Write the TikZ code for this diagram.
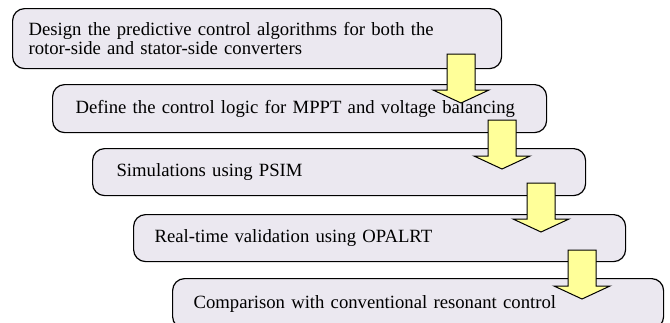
\documentclass[tikz,border=0pt]{standalone}
\usepackage{fontspec}
\setmainfont{Liberation Serif}
\usetikzlibrary{calc}
\definecolor{boxfill}{HTML}{EBE8F0}
\definecolor{arrowfill}{HTML}{FFFF99}
\tikzset{
  stepbox/.style={draw=black, line width=1.2pt, fill=boxfill, rounded corners=12pt,
    anchor=north west, inner ysep=0pt, font=\fontsize{18.7}{18.5}\selectfont,
    align=left},
  blockarrow/.style={draw=black, line width=1pt, fill=arrowfill, line join=miter},
}
% block arrow pointing down: #1 = top centre
\newcommand{\downarrowblock}[1]{%
  \path #1 coordinate (t);
  \draw[blockarrow] ($(t)+(-14,0)$) -- ($(t)+(14,0)$) -- ($(t)+(14,36)$) -- ($(t)+(28,36)$)
    -- ($(t)+(0,49)$) -- ($(t)+(-28,36)$) -- ($(t)+(-14,36)$) -- cycle;}
\begin{document}
\begin{tikzpicture}[x=1pt,y=-1pt]
\useasboundingbox (0,0) rectangle (670,322);
\clip (0,0) rectangle (670,322);
\node[stepbox, inner xsep=16pt, minimum width=489pt, minimum height=60pt, text width=457pt] (s1) at (12,8)
  {Design the predictive control algorithms for both the\\rotor-side and stator-side converters};
\node[stepbox, inner xsep=23pt, minimum width=494pt, minimum height=48pt, text width=448pt] (s2) at (52,84)
  {Define the control logic for MPPT and voltage balancing};
\node[stepbox, inner xsep=24pt, minimum width=493pt, minimum height=47pt, text width=445pt] (s3) at (92,148)
  {Simulations using PSIM};
\node[stepbox, inner xsep=21pt, minimum width=492pt, minimum height=47pt, text width=450pt] (s4) at (133,214)
  {Real-time validation using OPALRT};
\node[stepbox, inner xsep=21pt, minimum width=491pt, minimum height=50pt, text width=449pt] (s5) at (172,278)
  {Comparison with conventional resonant control};
\downarrowblock{(461,54)}
\downarrowblock{(502,120)}
\downarrowblock{(541,183)}
\downarrowblock{(582,250)}
\end{tikzpicture}
\end{document}
